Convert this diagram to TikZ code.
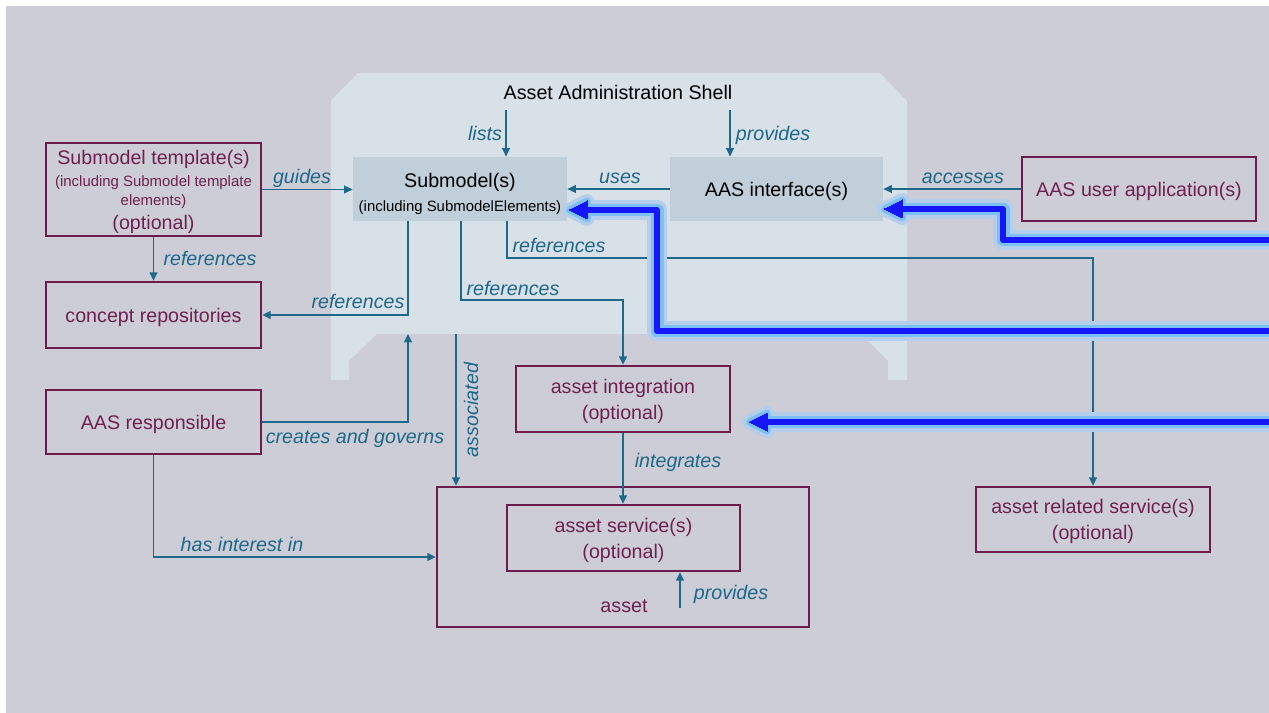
\documentclass[tikz,border=0pt]{standalone}
\usepackage{fontspec}
\setmainfont{Liberation Sans}
\usetikzlibrary{calc,arrows.meta}

\definecolor{pagegray}{RGB}{204,205,214}
\definecolor{shellfill}{RGB}{216,224,232}
\definecolor{partfill}{RGB}{192,207,218}
\definecolor{maroon}{RGB}{110,28,76}
\definecolor{maroontext}{RGB}{112,32,80}
\definecolor{linkteal}{RGB}{30,104,138}
\definecolor{glowouter}{RGB}{180,206,236}
\definecolor{glowinner}{RGB}{125,192,245}
\definecolor{flowblue}{RGB}{22,22,250}

\newcommand\fbig{\fontsize{11.2}{14.8}\selectfont}
\newcommand\fsmall{\fontsize{8.5}{12}\selectfont}

\begin{document}
\begin{tikzpicture}[x=0.02cm,y=-0.02cm,
  conn/.style={draw=linkteal,line width=0.85pt,-{Triangle[length=4.8pt,width=4.4pt]}},
  lbl/.style={text=linkteal,font=\fbig\itshape,inner sep=0pt,text height=8.2pt,text depth=0pt},
  entity/.style={draw=maroon,line width=1.4pt,text=maroontext,font=\fbig,align=center,inner sep=0pt,text depth=0pt},
  part/.style={fill=partfill,text=black,font=\fbig,align=center,inner sep=0pt,text depth=0pt},
]
\useasboundingbox (0,0) rectangle (1269,713);
\fill[pagegray] (6,6) rectangle (1269,713);

% the shell outline with chamfered top and feet
\fill[shellfill] (358,73) -- (880,73) -- (907,101) -- (907,380) -- (888,380) -- (888,361)
  -- (861,334) -- (377,334) -- (349,361) -- (349,380) -- (331,380) -- (331,100) -- cycle;

\node[text=black,font=\fbig,inner sep=0pt,text depth=0pt] (title) at (618,92) {Asset Administration Shell};

% parts of the shell
\node[part,minimum width=214*0.02cm,minimum height=64*0.02cm] (sm) at (460,189)
  {\fbig\rule{0pt}{11.6pt}Submodel(s)\\[-1.1pt] \fsmall (including SubmodelElements)};
\node[part,minimum width=213*0.02cm,minimum height=64*0.02cm] (ifc) at (776.5,189)
  {AAS interface(s)};

% surrounding entities
\node[entity,minimum width=215*0.02cm,minimum height=93*0.02cm] (tmpl) at (153.5,189.5)
  {\fbig Submodel template(s)\\[-2.2pt] \fsmall (including Submodel template\\[-4pt]
   \fsmall elements)\\[-1.1pt] \fbig (optional)};
\node[entity,minimum width=215*0.02cm,minimum height=66*0.02cm] (concept) at (153.5,315)
  {concept repositories};
\node[entity,minimum width=215*0.02cm,minimum height=64*0.02cm] (resp) at (153.5,422)
  {AAS responsible};
\node[entity,minimum width=234*0.02cm,minimum height=64*0.02cm] (app) at (1139,189)
  {AAS user application(s)};
\node[entity,minimum width=214*0.02cm,minimum height=66*0.02cm] (integ) at (623,399)
  {asset integration\\ (optional)};
\node[entity,minimum width=372*0.02cm,minimum height=140*0.02cm] (asset) at (623,557) {};
\node[entity,minimum width=233*0.02cm,minimum height=66*0.02cm] (svc) at (623.5,538)
  {asset service(s)\\ (optional)};
\node[text=maroontext,font=\fbig,inner sep=0pt,text depth=0pt] (assetname) at (624,606) {asset};
\node[entity,minimum width=234*0.02cm,minimum height=65*0.02cm] (rel) at (1093,519.5)
  {asset related service(s)\\ (optional)};

% relations
\coordinate (listtop) at (506,110);
\draw[conn] (listtop) -- (listtop |- sm.north);
\coordinate (provtop) at (730,110);
\draw[conn] (provtop) -- (provtop |- ifc.north);
\draw[conn] (ifc.west) -- (sm.east);
\draw[conn] (app.west) -- (ifc.east);
\draw[conn] (tmpl.east) -- (tmpl.east -| sm.west);
\draw[conn] (tmpl.south) -- (concept.north);
\coordinate (refx1) at (408,0);
\draw[conn] (refx1 |- sm.south) |- (concept.east);
\coordinate (refx2) at (461,300);
\draw[conn] (refx2 |- sm.south) -- (refx2) -| (integ.north);
\coordinate (refx3) at (507,258);
\draw[conn] (refx3 |- sm.south) -- (refx3) -| (rel.north);
\coordinate (shellfoot) at (408,334);
\draw[conn] (resp.east) -| (shellfoot);
\coordinate (assoctop) at (456,334);
\draw[conn] (assoctop) -- (assoctop |- asset.north);
\draw[conn] (resp.south) |- (asset.west);
\draw[conn] (integ.south) -- (integ.south |- svc.north);
\coordinate (provfoot) at (680,608);
\draw[conn] (provfoot) -- (provfoot |- svc.south);

% relation labels
\node[lbl] (l-lists) at (485,133) {lists};
\node[lbl] (l-prov) at (773,133) {provides};
\node[lbl] (l-uses) at (620,176) {uses};
\node[lbl] (l-acc) at (963,176) {accesses};
\node[lbl] (l-guides) at (302,176) {guides};
\node[lbl] (l-ref1) at (210,258) {references};
\node[lbl] (l-ref2) at (358,301) {references};
\node[lbl] (l-ref3) at (513,288) {references};
\node[lbl] (l-ref4) at (559,245) {references};
\node[lbl] (l-cg) at (355,436) {creates and governs};
\node[lbl,rotate=90] (l-assoc) at (471,410) {associated};
\node[lbl] (l-hii) at (242,544) {has interest in};
\node[lbl] (l-integ) at (678,460) {integrates};
\node[lbl] (l-prov2) at (731,592) {provides};

% highlighted flows entering from the right
\coordinate (inA) at (1269,240);
\coordinate (inB) at (1269,331);
\coordinate (inC) at (1269,422);
\coordinate (tipA) at ($(ifc.east)+(1,20)$);
\coordinate (tipB) at ($(sm.east)+(2,21)$);
\coordinate (tipC) at ($(integ.east)+(18,23)$);
\foreach \w/\c in {20/glowouter,13/glowinner,6/flowblue}{
  \draw[draw=\c,line width=\w*0.569pt,line join=round]
    (inA) -- (1003,240) -- (1003,209) -- ($(tipA)+(17,0)$);
  \draw[draw=\c,line width=\w*0.569pt,line join=round]
    (inB) -- (657,331) -- (657,210) -- ($(tipB)+(17,0)$);
  \draw[draw=\c,line width=\w*0.569pt,line join=round]
    (inC) -- ($(tipC)+(17,0)$);
  \foreach \t in {tipA,tipB,tipC}
    \filldraw[fill=\c,draw=\c,line width=(\w-6)*0.569pt,line join=round]
      (\t) -- ++(18,-9) -- ++(0,18) -- cycle;
}
\end{tikzpicture}
\end{document}
